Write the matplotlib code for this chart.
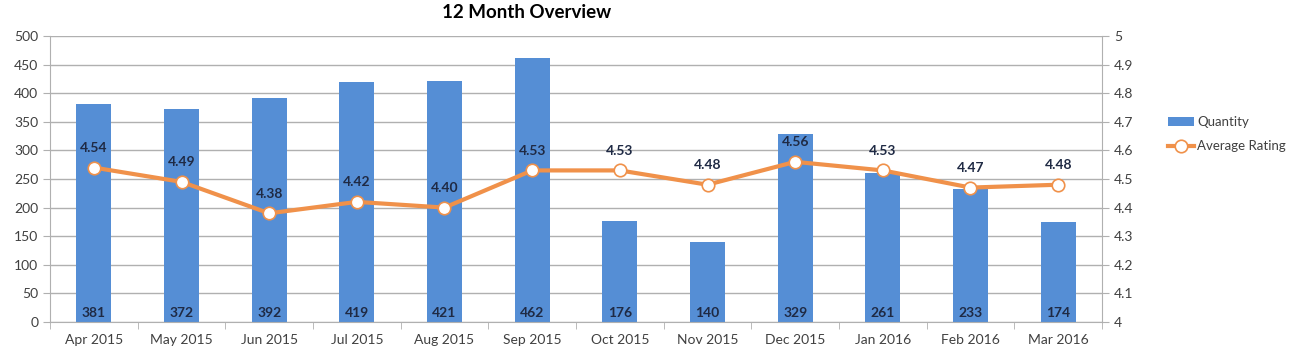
import matplotlib
matplotlib.use("Agg")
import matplotlib.pyplot as plt
import numpy as np

months = ["Apr 2015", "May 2015", "Jun 2015", "Jul 2015", "Aug 2015", "Sep 2015",
          "Oct 2015", "Nov 2015", "Dec 2015", "Jan 2016", "Feb 2016", "Mar 2016"]
quantity = [381, 372, 392, 419, 421, 462, 176, 140, 329, 261, 233, 174]
rating = [4.54, 4.49, 4.38, 4.42, 4.40, 4.53, 4.53, 4.48, 4.56, 4.53, 4.47, 4.48]

bar_color = "#558ED5"
line_color = "#F0914A"
text_color = "#404040"
grid_color = "#B0B0B0"

plt.rcParams["font.family"] = ["Lato", "DejaVu Sans"]

fig = plt.figure(figsize=(13.11, 3.48), dpi=100)
ax = fig.add_axes([50 / 1311, 1 - 322 / 348, 1052 / 1311, 286 / 348])
ax2 = ax.twinx()

x = np.arange(len(months))
bars = ax.bar(x, quantity, width=0.4, color=bar_color, zorder=2, label="Quantity")
for xi, q in zip(x, quantity):
    ax.text(xi, 15, str(q), ha="center", va="center", fontsize=10,
            fontweight="bold", color="#1F2A44", zorder=3)

ax.set_xlim(-0.5, len(months) - 0.5)
ax.set_ylim(0, 500)
ax.set_yticks(range(0, 501, 50))
ax.yaxis.grid(True, color=grid_color, linewidth=1, zorder=0)
ax.set_axisbelow(True)
ax.set_xticks(x)
ax.set_xticklabels(months)
ax.set_xticks(np.arange(-0.5, len(months), 1), minor=True)
ax.tick_params(axis="x", which="major", length=0, pad=9, labelsize=10, colors=text_color)
ax.tick_params(axis="x", which="minor", length=5, color=grid_color)
ax.tick_params(axis="y", length=5, color=grid_color, labelsize=10, labelcolor=text_color)

ln, = ax2.plot(x, rating, color=line_color, linewidth=3, marker="o", markersize=9,
               markerfacecolor="white", markeredgecolor=line_color, markeredgewidth=1.2,
               zorder=4, label="Average Rating")
for xi, r in zip(x, rating):
    ax2.text(xi, r + 0.068, "%.2f" % r, ha="center", va="center", fontsize=10,
             fontweight="bold", color="#1F2A44")
ax2.set_ylim(4, 5)
ax2.set_yticks(np.arange(4, 5.01, 0.1))
ax2.set_yticklabels(["4", "4.1", "4.2", "4.3", "4.4", "4.5", "4.6", "4.7", "4.8", "4.9", "5"])
ax2.tick_params(axis="y", length=5, color=grid_color, labelsize=10, labelcolor=text_color)

for a in (ax, ax2):
    a.spines["top"].set_visible(False)
    for s in ("left", "right", "bottom"):
        a.spines[s].set_color(grid_color)
ax.spines["right"].set_visible(False)
ax2.spines["left"].set_visible(False)
ax2.spines["bottom"].set_visible(False)

fig.legend([bars, ln], ["Quantity", "Average Rating"], loc="upper left",
           bbox_to_anchor=(1156 / 1311, 1 - 104 / 348), frameon=False, fontsize=9.5,
           labelcolor=text_color, handlelength=2.0, labelspacing=0.95, handletextpad=0.2)

fig.suptitle("12 Month Overview", x=527 / 1311, y=1 - 12 / 348, va="center",
             fontsize=13.5, fontweight="bold", color="black")

fig.savefig("out.png", dpi=100)
